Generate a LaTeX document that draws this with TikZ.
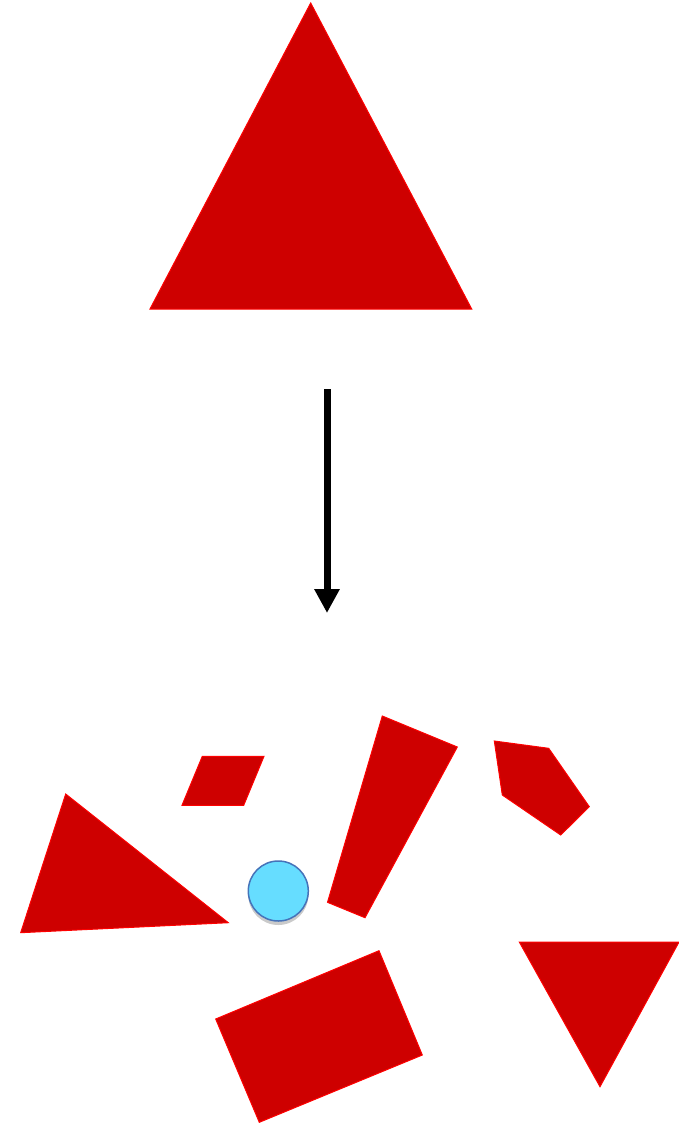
\documentclass[tikz,border=0pt]{standalone}
\usetikzlibrary{arrows.meta,shadows}
\definecolor{shapefill}{RGB}{206,0,0}
\definecolor{shapeline}{RGB}{255,0,0}
\definecolor{ballfill}{RGB}{102,221,255}
\definecolor{ballline}{RGB}{70,115,185}
\tikzset{
  piece/.style={fill=shapefill,draw=shapeline,line width=1pt,line join=miter},
  ball/.style={circle,fill=ballfill,draw=ballline,line width=1.5pt,minimum size=60pt,inner sep=0pt,
    drop shadow={shadow xshift=0pt,shadow yshift=-4pt,opacity=0.35,fill=black!60}},
  bigarrow/.style={line width=7pt,-{Triangle[length=24pt,width=24pt]}}
}
\begin{document}
\begin{tikzpicture}[x=1pt,y=-1pt]
\useasboundingbox (0,0) rectangle (679,1123);
% big triangle
\draw[piece] (310.7,3) -- (471.7,309) -- (150,309) -- cycle;
% arrow
\coordinate (arrowstart) at (327,389);
\coordinate (arrowend) at (327,613);
\draw[bigarrow] (arrowstart) -- (arrowend);
% pieces
\draw[piece] (65.7,794) -- (228.3,922.7) -- (20.7,932.7) -- cycle;
\draw[piece] (202.3,756.3) -- (264,756.3) -- (243.7,805.3) -- (182,805.3) -- cycle;
\draw[piece] (382.3,716) -- (457.3,747) -- (365,917.7) -- (327.5,902.3) -- cycle;
\draw[piece] (494.3,741) -- (548.7,748.3) -- (589.3,806.7) -- (560.7,835) -- (502.3,795) -- cycle;
\draw[piece] (215.7,1019) -- (379,950.7) -- (422.3,1055) -- (259.3,1122.3) -- cycle;
\draw[piece] (519.3,942) -- (679,942) -- (600,1086.7) -- cycle;
% ball
\node[ball] (ballnode) at (278.3,891) {};
\end{tikzpicture}
\end{document}
